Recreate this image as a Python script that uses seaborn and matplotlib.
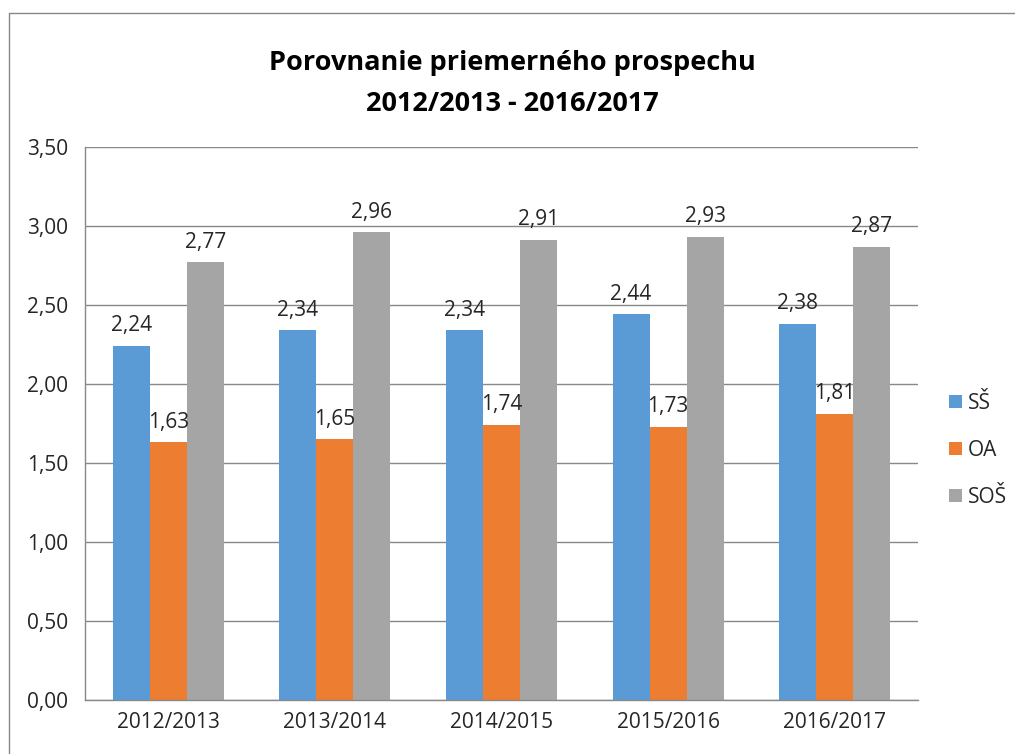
import matplotlib
matplotlib.use("Agg")
import matplotlib.pyplot as plt
from matplotlib.lines import Line2D
import numpy as np
import pandas as pd
import seaborn as sns

years = ["2012/2013", "2013/2014", "2014/2015", "2015/2016", "2016/2017"]
series_names = ["SŠ", "OA", "SOŠ"]
ss_values = [2.24, 2.34, 2.34, 2.44, 2.38]
oa_values = [1.63, 1.65, 1.74, 1.73, 1.81]
sos_values = [2.77, 2.96, 2.91, 2.93, 2.87]
y_ticks = [0.0, 0.5, 1.0, 1.5, 2.0, 2.5, 3.0, 3.5]
colors = ["#5B9BD5", "#ED7D31", "#A5A5A5"]

df = pd.DataFrame({
    "year": years * 3,
    "series": np.repeat(series_names, len(years)),
    "value": ss_values + oa_values + sos_values,
})


def comma(v: float) -> str:
    return f"{v:.2f}".replace(".", ",")


sns.set_theme(style="white")
plt.rcParams["font.family"] = ["Open Sans", "DejaVu Sans"]

fig = plt.figure(figsize=(10.15, 7.54), dpi=100)
ax = fig.add_axes([85 / 1015, 1 - 700 / 754, (918 - 85) / 1015, (700 - 147) / 754])

sns.barplot(data=df, x="year", y="value", hue="series", palette=colors,
            width=0.667, gap=0, saturation=1, linewidth=0, ax=ax, legend=True)

for container in ax.containers:
    ax.bar_label(container, labels=[comma(b.get_height()) for b in container],
                 padding=7, fontsize=15, color="#262626")

ax.set_ylim(0, 3.5)
ax.set_xlim(-0.5, len(years) - 0.5)
ax.set_yticks(y_ticks)
ax.set_yticklabels([comma(t) for t in y_ticks], fontsize=15, color="#262626")
ax.set_xticks(range(len(years)))
ax.set_xticklabels(years, fontsize=15, color="#262626")
ax.set_xticks(np.arange(-0.5, len(years)), minor=True)
ax.tick_params(axis="x", which="major", length=0, pad=9)
ax.tick_params(axis="x", which="minor", length=7, color="#888888", width=1, direction="out")
ax.tick_params(axis="y", length=7, color="#888888", width=1, direction="out", pad=5)
ax.set_xlabel("")
ax.set_ylabel("")
ax.yaxis.grid(True, color="#888888", linewidth=1)
ax.set_axisbelow(True)
for side in ["top", "right"]:
    ax.spines[side].set_visible(False)
for side in ["left", "bottom"]:
    ax.spines[side].set_color("#888888")
    ax.spines[side].set_linewidth(1)

handles, labels = ax.get_legend_handles_labels()
ax.legend(handles, labels, loc="center left", bbox_to_anchor=(1.015, 0.452),
          frameon=False, fontsize=15, handlelength=0.6, handleheight=0.6,
          handletextpad=0.3, labelspacing=1.25)

fig.text(0.505, 1 - 63 / 754, "Porovnanie priemerného prospechu", ha="center", va="center",
         fontsize=19.5, fontweight="bold", color="#000000")
fig.text(0.505, 1 - 104 / 754, "2012/2013 - 2016/2017", ha="center", va="center",
         fontsize=19.5, fontweight="bold", color="#000000")

fig.add_artist(Line2D([9 / 1015, 1.0], [1 - 13 / 754, 1 - 13 / 754], color="#888888", linewidth=1))
fig.add_artist(Line2D([9 / 1015, 9 / 1015], [0.0, 1 - 13 / 754], color="#888888", linewidth=1))

fig.savefig("out.png", dpi=100)
